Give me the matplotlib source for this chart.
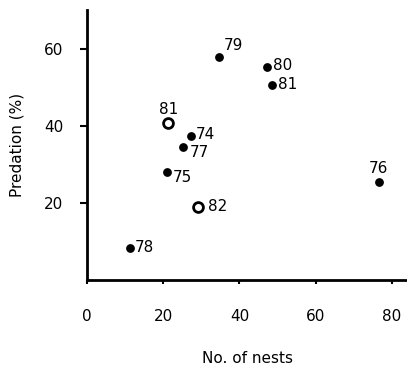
import matplotlib
matplotlib.use("Agg")
import matplotlib.pyplot as plt

matplotlib.rcParams.update({'font.size': 11, 'font.family': ['DejaVu Sans']})

# data
years_filled = ["74", "75", "76", "77", "78", "79", "80", "81"]
nests_filled = [27.3, 20.9, 76.6, 25.1, 11.3, 34.6, 47.2, 48.6]
pred_filled = [37.3, 28.1, 25.3, 34.5, 8.4, 57.7, 55.2, 50.6]

years_open = ["81", "82"]
nests_open = [21.3, 29.0]
pred_open = [40.8, 19.0]

# label offsets in pixels (dx, dy) and alignment
offs = {"74": (5, 2, "left", "center"), "75": (6, -6, "left", "center"),
        "76": (0, 6, "center", "bottom"), "77": (7, -6, "left", "center"),
        "78": (5, 0, "left", "center"), "79": (5, 4, "left", "bottom"),
        "80": (6, 2, "left", "center"), "81": (6, 0, "left", "center")}
offs_open = {"81": (0, 6, "center", "bottom"), "82": (10, 0, "left", "center")}

fig = plt.figure(figsize=(4.07, 3.69), dpi=100)
ax = fig.add_axes([0.214, 0.241, 0.786, 0.732])

ax.scatter(nests_filled, pred_filled, s=28, color="black", zorder=3)
ax.scatter(nests_open, pred_open, s=50, facecolor="white", edgecolor="black",
           linewidths=2, zorder=3)

for x, y, t in zip(nests_filled, pred_filled, years_filled):
    dx, dy, ha, va = offs[t]
    ax.annotate(t, (x, y), xytext=(dx * 0.72, dy * 0.72), textcoords="offset points",
                ha=ha, va=va, fontsize=11)
for x, y, t in zip(nests_open, pred_open, years_open):
    dx, dy, ha, va = offs_open[t]
    ax.annotate(t, (x, y), xytext=(dx * 0.72, dy * 0.72), textcoords="offset points",
                ha=ha, va=va, fontsize=11)

ax.set_xlim(0, 84)
ax.set_ylim(0, 70)
ax.set_xticks([0, 20, 40, 60, 80])
ax.set_yticks([20, 40, 60])
ax.spines["top"].set_visible(False)
ax.spines["right"].set_visible(False)
ax.spines["left"].set_linewidth(2)
ax.spines["bottom"].set_linewidth(2)
ax.tick_params(axis="x", length=3, width=1.5, pad=18, labelsize=11)
ax.tick_params(axis="y", length=5, width=1.5, pad=12, labelsize=11)

ax.set_xlabel("No. of nests", labelpad=19, fontsize=11)
ax.set_ylabel("Predation (%)", labelpad=14, fontsize=11)

plt.savefig("out.png")
